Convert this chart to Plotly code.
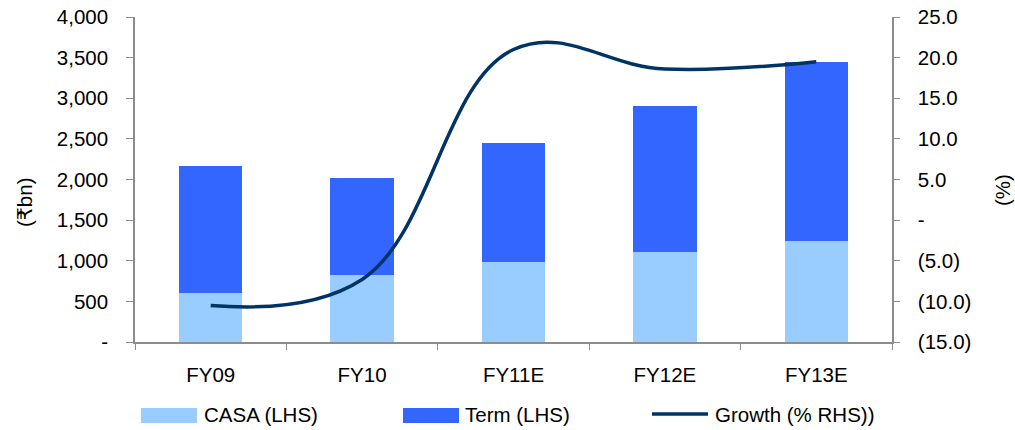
import plotly.graph_objects as go

# Deposit mix (₹bn) and growth (%)
categories = ["FY09", "FY10", "FY11E", "FY12E", "FY13E"]
casa = [605, 830, 990, 1110, 1245]
term = [1565, 1190, 1460, 1790, 2205]
growth = [-10.5, -7.3, 21.0, 18.6, 19.5]

left_ticks = [0, 500, 1000, 1500, 2000, 2500, 3000, 3500, 4000]
left_labels = ["-", "500", "1,000", "1,500", "2,000", "2,500", "3,000", "3,500", "4,000"]
right_ticks = [-15, -10, -5, 0, 5, 10, 15, 20, 25]
right_labels = ["(15.0)", "(10.0)", "(5.0)", "-", "5.0", "10.0", "15.0", "20.0", "25.0"]

CASA_COLOR = "#99CCFF"
TERM_COLOR = "#3366FF"
LINE_COLOR = "#003366"
AXIS_COLOR = "#8C8C8C"
FONT = "Liberation Sans, Arial, DejaVu Sans, sans-serif"
FS = 20.5

fig = go.Figure()
fig.add_trace(go.Bar(x=categories, y=casa, name="CASA (LHS)", marker_color=CASA_COLOR,
                     marker_line_width=0))
fig.add_trace(go.Bar(x=categories, y=term, name="Term (LHS)", marker_color=TERM_COLOR,
                     marker_line_width=0))
fig.add_trace(go.Scatter(x=categories, y=growth, name="Growth (% RHS))", yaxis="y2",
                         mode="lines",
                         line=dict(color=LINE_COLOR, width=3.5, shape="spline", smoothing=1.15)))

W, H = 1015, 430
L, R, T, B = 135, 123, 17, 88
pw, ph = W - L - R, H - T - B


def px(x):
    return (x - L) / pw


def py(y):
    return (H - B - y) / ph


fig.update_layout(
    width=W, height=H,
    margin=dict(l=L, r=R, t=T, b=B, autoexpand=False),
    barmode="stack", bargap=0.58,
    showlegend=False,
    plot_bgcolor="white", paper_bgcolor="white",
    font=dict(family=FONT, size=FS, color="#000000"),
    xaxis=dict(
        type="category", range=[-0.5, 4.5],
        showline=True, linecolor=AXIS_COLOR, linewidth=1.5,
        ticks="outside", tickson="boundaries", ticklen=6, tickcolor=AXIS_COLOR,
        ticklabelstandoff=14, showgrid=False, zeroline=False, automargin=False,
    ),
    yaxis=dict(
        range=[0, 4000], tickvals=left_ticks, ticktext=left_labels,
        showline=True, linecolor=AXIS_COLOR, linewidth=1.5,
        ticks="outside", ticklen=7, tickcolor=AXIS_COLOR,
        ticklabelstandoff=14, showgrid=False, zeroline=False, automargin=False,
    ),
    yaxis2=dict(
        range=[-15, 25], tickvals=right_ticks, ticktext=right_labels,
        overlaying="y", side="right", anchor="x",
        showline=True, linecolor=AXIS_COLOR, linewidth=1.5,
        ticks="outside", ticklen=6, tickcolor=AXIS_COLOR,
        ticklabelstandoff=14, showgrid=False, zeroline=False, automargin=False,
    ),
)

# Axis titles
fig.add_annotation(text="(₹bn)", xref="paper", yref="paper", x=px(24), y=py(202),
                   showarrow=False, textangle=-90, font=dict(size=FS),
                   xanchor="center", yanchor="middle")
fig.add_annotation(text="(%)", xref="paper", yref="paper", x=px(1002), y=py(190),
                   showarrow=False, textangle=-90, font=dict(size=FS),
                   xanchor="center", yanchor="middle")

# Legend row
legend_y0, legend_y1 = 408, 423
for x0, x1, color in [(141, 197, CASA_COLOR), (403, 459, TERM_COLOR)]:
    fig.add_shape(type="rect", xref="paper", yref="paper",
                  x0=px(x0), x1=px(x1), y0=py(legend_y1), y1=py(legend_y0),
                  fillcolor=color, line_width=0)
fig.add_shape(type="line", xref="paper", yref="paper",
              x0=px(652), x1=px(708), y0=py(414), y1=py(414),
              line=dict(color=LINE_COLOR, width=3.5))
for x, label in [(202, "CASA (LHS)"), (463, "Term (LHS)"), (713, "Growth (% RHS))")]:
    fig.add_annotation(text=label, xref="paper", yref="paper", x=px(x), y=py(414),
                       showarrow=False, xanchor="left", yanchor="middle",
                       font=dict(size=FS))

fig.write_html("out.html")
